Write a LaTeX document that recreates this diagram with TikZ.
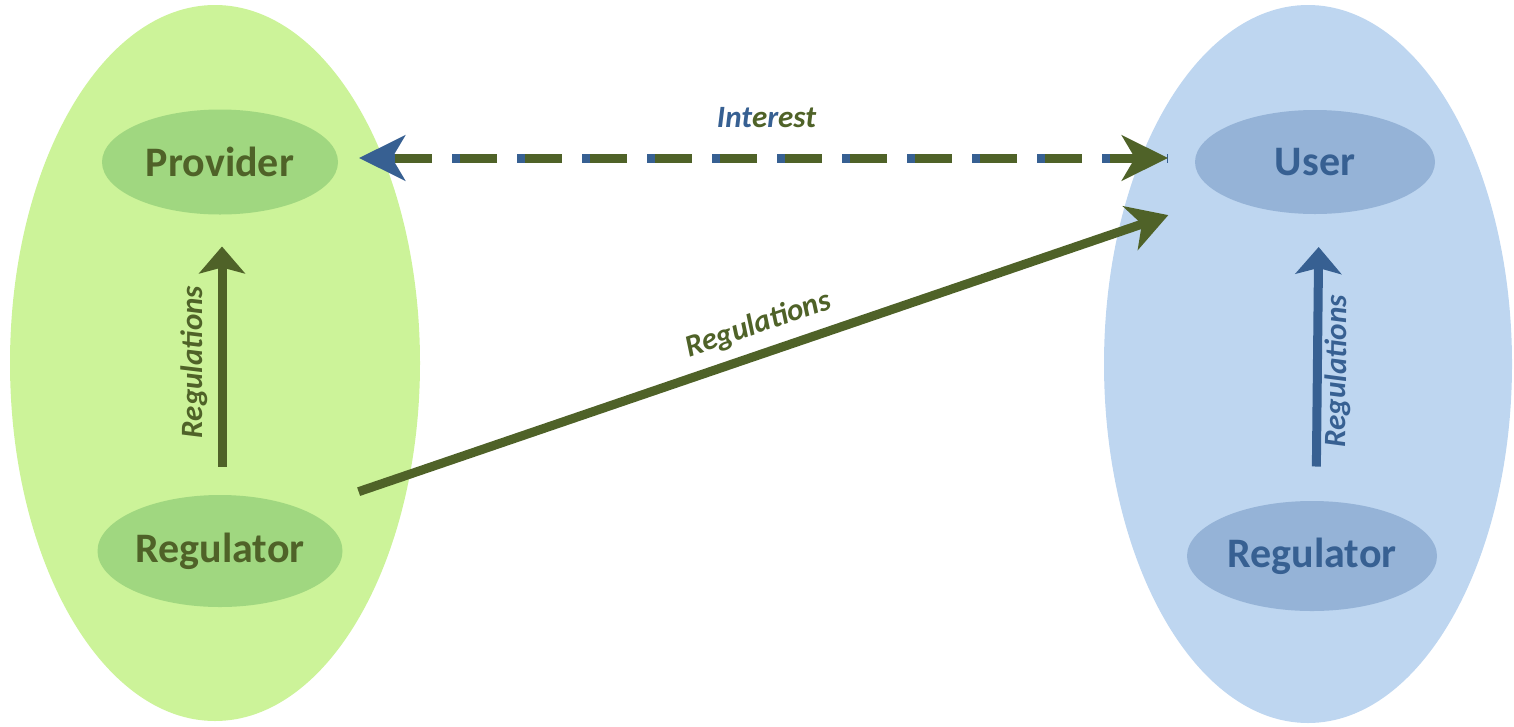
\documentclass[tikz,border=0pt]{standalone}
\usepackage{fontspec}
\setmainfont{Carlito}
\usepackage{tikz}
\usetikzlibrary{shapes.geometric}
\usetikzlibrary{arrows.meta}

\begin{document}
\begin{tikzpicture}[x=1pt,y=-1pt,line cap=rect,
		side/.style={ellipse, inner sep=0, outer sep=0},
		party/.style={ellipse, inner sep=0, outer sep=0, font=\partyfont},
		lbl/.style={inner sep=0, outer sep=0, font=\lblfont},
		regarrow/.style={line width=9pt, -{Stealth[length=27pt, width=46pt, inset=6pt]}},
		interesttip/.style={-{Stealth[length=46pt, width=45pt, inset=13pt]}}]
					\def\partyfont{\fontsize{42pt}{42pt}\selectfont\bfseries}
					\def\lblfont{\fontsize{31pt}{31pt}\selectfont\bfseries\itshape}
					\definecolor{custcol_cc_f3_99}{RGB}{204, 243, 153}
					\definecolor{custcol_a0_d7_80}{RGB}{160, 215, 128}
					\definecolor{custcol_4f_62_28}{RGB}{79, 98, 40}
					\definecolor{custcol_be_d6_f0}{RGB}{190, 214, 240}
					\definecolor{custcol_95_b3_d7}{RGB}{149, 179, 215}
					\definecolor{custcol_37_60_92}{RGB}{55, 96, 146}
					\useasboundingbox (0,0) rectangle (1514,726);
					% the two sides
					\node[side, fill=custcol_cc_f3_99, minimum width=410, minimum height=716] (provside) at (215,363) {};
					\node[side, fill=custcol_be_d6_f0, minimum width=408, minimum height=718] (userside) at (1308,364) {};
					\node[party, fill=custcol_a0_d7_80, text=custcol_4f_62_28, minimum width=236, minimum height=105] (prov) at (220,162) {Provider};
					\node[party, fill=custcol_a0_d7_80, text=custcol_4f_62_28, minimum width=245, minimum height=112] (reg1) at (220,551) {Regulator};
					\node[party, fill=custcol_95_b3_d7, text=custcol_37_60_92, minimum width=240, minimum height=104] (user) at (1315,162) {User};
					\node[party, fill=custcol_95_b3_d7, text=custcol_37_60_92, minimum width=250, minimum height=110] (reg2) at (1312,556) {Regulator};
					% interest, both ways
					\draw [line width=9pt, line cap=butt, custcol_37_60_92, dash pattern=on 45pt off 20pt, dash phase=44pt, interesttip, shorten <=27pt, shorten >=21pt]  ([yshift=4pt]user.west) -- ([yshift=4pt]prov.east) ;
					\draw [line width=9pt, line cap=butt, custcol_4f_62_28, dash pattern=on 37pt off 28pt, interesttip, shorten <=57pt, shorten >=27pt]  ([yshift=4pt]prov.east) -- ([yshift=4pt]user.west)
						node[lbl, midway, above=30pt] (interest) {\textcolor{custcol_37_60_92}{Int}\textcolor{custcol_4f_62_28}{e}\textcolor{custcol_37_60_92}{r}\textcolor{custcol_4f_62_28}{est}} ;
					% regulations
					\draw [regarrow, custcol_4f_62_28, shorten <=33pt, shorten >=32pt]  ([xshift=2pt]reg1.north) -- ([xshift=2pt]prov.south)
						node[lbl, pos=0.474, sloped, above=14pt, text=custcol_4f_62_28] (lblprov) {Regulations} ;
					\draw [regarrow, custcol_37_60_92, shorten <=39pt, shorten >=33pt]  ([xshift=4pt]reg2.north) -- ([xshift=4pt]user.south)
						node[lbl, pos=0.453, sloped, below=7pt, text=custcol_37_60_92] (lbluser) {Regulations} ;
					\draw [line width=9pt, custcol_4f_62_28, -{Stealth[length=40pt, width=46pt, inset=12pt]}, shorten <=151pt, shorten >=155pt]  ([yshift=12pt]reg1.center) -- ([yshift=-3pt]user.center)
						node[lbl, midway, sloped, above=15pt, text=custcol_4f_62_28] (lblcross) {Regulations} ;
				\end{tikzpicture}
\end{document}
